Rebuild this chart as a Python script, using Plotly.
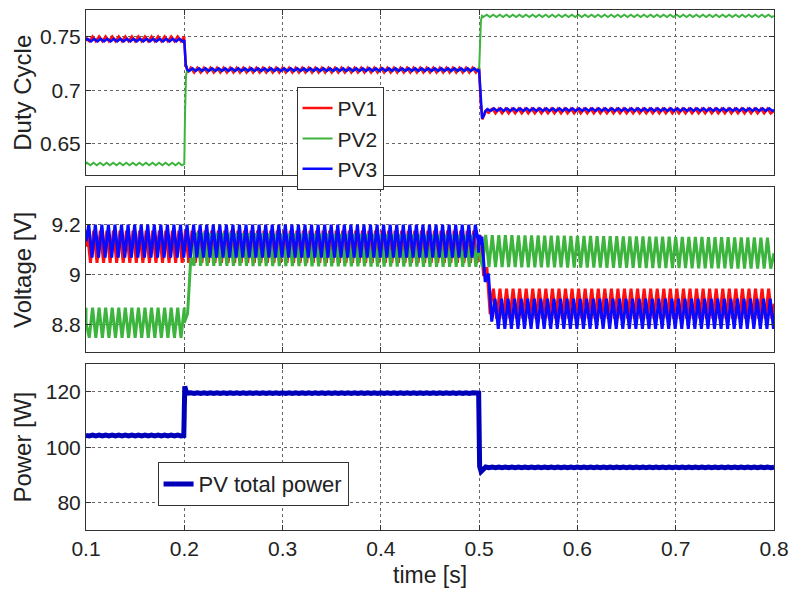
import numpy as np
import plotly.graph_objects as go

# ---------------- data ----------------
T_START, T_END = 0.1, 0.8
RIPPLE_PERIOD = 1 / 150.0  # s, switching ripple

x_ticks = [0.1, 0.2, 0.3, 0.4, 0.5, 0.6, 0.7, 0.8]
x_tick_text = ["0.1", "0.2", "0.3", "0.4", "0.5", "0.6", "0.7", "0.8"]

duty_ticks = [0.65, 0.7, 0.75]
duty_tick_text = ["0.65", "0.7", "0.75"]
volt_ticks = [8.8, 9.0, 9.2]
volt_tick_text = ["8.8", "9", "9.2"]
power_ticks = [80, 100, 120]
power_tick_text = ["80", "100", "120"]

# Duty cycle: mean level knots (time, value) and ripple half-amplitude
duty_pv1_t = [0.1, 0.2, 0.2015, 0.203, 0.5, 0.5015, 0.503, 0.506, 0.51, 0.8]
duty_pv1_v = [0.748, 0.748, 0.723, 0.7188, 0.7188, 0.69, 0.6745, 0.679, 0.6805, 0.6805]
duty_pv1_a = [0.0022, 0.0022, 0.0022, 0.0022, 0.0022, 0.0022, 0.0022, 0.0022, 0.0022, 0.0022]

duty_pv2_t = [0.1, 0.2, 0.2008, 0.2018, 0.203, 0.5, 0.5008, 0.5018, 0.503, 0.8]
duty_pv2_v = [0.631, 0.631, 0.68, 0.714, 0.719, 0.719, 0.745, 0.765, 0.7695, 0.7695]
duty_pv2_a = [0.0012, 0.0012, 0.0, 0.0, 0.0011, 0.0011, 0.0, 0.0, 0.0011, 0.0011]

duty_pv3_t = [0.1, 0.2, 0.2015, 0.203, 0.5, 0.5015, 0.503, 0.506, 0.51, 0.8]
duty_pv3_v = [0.7468, 0.7468, 0.723, 0.7192, 0.7192, 0.69, 0.6735, 0.68, 0.6818, 0.6818]
duty_pv3_a = [0.0012, 0.0012, 0.0012, 0.0012, 0.0012, 0.0012, 0.0012, 0.0012, 0.0012, 0.0012]

# PV voltages
volt_pv1_t = [0.1, 0.5, 0.503, 0.512, 0.8]
volt_pv1_v = [9.112, 9.112, 9.08, 8.884, 8.884]
volt_pv1_a = [0.064, 0.064, 0.05, 0.06, 0.06]

volt_pv2_t = [0.1, 0.2, 0.21, 0.5, 0.8]
volt_pv2_v = [8.808, 8.808, 9.102, 9.095, 9.086]
volt_pv2_a = [0.06, 0.06, 0.066, 0.064, 0.062]

volt_pv3_t = [0.1, 0.499, 0.5, 0.502, 0.514, 0.8]
volt_pv3_v = [9.134, 9.134, 9.16, 9.12, 8.844, 8.844]
volt_pv3_a = [0.066, 0.066, 0.05, 0.05, 0.06, 0.06]

# Total power
power_t = [0.1, 0.1995, 0.2005, 0.202, 0.204, 0.4995, 0.5005, 0.502, 0.505, 0.8]
power_v = [104.2, 104.2, 122.0, 120.0, 119.6, 119.6, 93.0, 91.2, 92.7, 92.7]
power_a = [0.15, 0.15, 0.0, 0.12, 0.12, 0.12, 0.0, 0.12, 0.12, 0.12]


def rippled(knot_t, knot_v, knot_a, phase):
    """Mean level through the read knots with the read ripple amplitude."""
    half = RIPPLE_PERIOD / 2
    grid = np.arange(T_START + phase, T_END, half)
    sign = np.where(np.arange(len(grid)) % 2 == 0, 1.0, -1.0)
    kt = np.asarray(knot_t, dtype=float)
    t = np.concatenate([grid, kt])
    s = np.concatenate([sign, np.zeros(len(kt))])
    order = np.argsort(t, kind="stable")
    t, s = t[order], s[order]
    v = np.interp(t, kt, knot_v) + s * np.interp(t, kt, knot_a)
    return t, v


RED = "#ff1010"
GREEN = "#3db43d"
BLUE = "#0a0aff"
DARKBLUE = "#0000b8"

fig = go.Figure()

d1 = rippled(duty_pv1_t, duty_pv1_v, duty_pv1_a, 0.0)
d2 = rippled(duty_pv2_t, duty_pv2_v, duty_pv2_a, 0.001)
d3 = rippled(duty_pv3_t, duty_pv3_v, duty_pv3_a, 0.0017)
fig.add_trace(go.Scatter(x=d1[0], y=d1[1], mode="lines", name="PV1",
                         line=dict(color=RED, width=2.5), xaxis="x3", yaxis="y3", legend="legend"))
fig.add_trace(go.Scatter(x=d2[0], y=d2[1], mode="lines", name="PV2",
                         line=dict(color=GREEN, width=2), xaxis="x3", yaxis="y3", legend="legend"))
fig.add_trace(go.Scatter(x=d3[0], y=d3[1], mode="lines", name="PV3",
                         line=dict(color=BLUE, width=2.5), xaxis="x3", yaxis="y3", legend="legend"))

v1 = rippled(volt_pv1_t, volt_pv1_v, volt_pv1_a, 0.0012)
v2 = rippled(volt_pv2_t, volt_pv2_v, volt_pv2_a, 0.0)
v3 = rippled(volt_pv3_t, volt_pv3_v, volt_pv3_a, 0.0028)
for (tt, vv), col in ((v1, RED), (v2, GREEN), (v3, BLUE)):
    fig.add_trace(go.Scatter(x=tt, y=vv, mode="lines", showlegend=False,
                             line=dict(color=col, width=3), xaxis="x2", yaxis="y2"))

p = rippled(power_t, power_v, power_a, 0.0)
fig.add_trace(go.Scatter(x=p[0], y=p[1], mode="lines", name="PV total power",
                         line=dict(color=DARKBLUE, width=5), xaxis="x", yaxis="y", legend="legend2"))

FONT = "Liberation Sans, Arial, sans-serif"
axis_common = dict(showline=True, linecolor="#333", linewidth=1, mirror="ticks",
                   ticks="inside", ticklen=5, tickcolor="#333",
                   showgrid=True, gridcolor="#666", griddash="dot", gridwidth=1,
                   zeroline=False, tickfont=dict(size=21, color="#222", family=FONT))

xrange = [0.1, 0.8]
fig.update_layout(
    width=798, height=592,
    margin=dict(l=86, r=19, t=9, b=62),
    paper_bgcolor="white", plot_bgcolor="white",
    font=dict(family=FONT, color="#222"),
    xaxis=dict(domain=[0, 1], range=xrange, tickvals=x_ticks, ticktext=x_tick_text,
               anchor="y", **axis_common),
    xaxis2=dict(domain=[0, 1], range=xrange, tickvals=x_ticks, showticklabels=False,
                anchor="y2", matches="x", **axis_common),
    xaxis3=dict(domain=[0, 1], range=xrange, tickvals=x_ticks, showticklabels=False,
                anchor="y3", matches="x", **axis_common),
    yaxis=dict(domain=[0, 0.3186], range=[70, 130], tickvals=power_ticks,
               ticktext=power_tick_text, anchor="x", **axis_common),
    yaxis2=dict(domain=[0.3417, 0.6603], range=[8.69, 9.352], tickvals=volt_ticks,
                ticktext=volt_tick_text, anchor="x2", **axis_common),
    yaxis3=dict(domain=[0.6833, 1.0], range=[0.621, 0.775], tickvals=duty_ticks,
                ticktext=duty_tick_text, anchor="x3", **axis_common),
    legend=dict(x=0.306, y=0.852, xanchor="left", yanchor="top",
                bgcolor="white", bordercolor="#333", borderwidth=1,
                font=dict(size=21, family=FONT, color="#222"),
                itemwidth=30, tracegroupgap=0),
    legend2=dict(x=0.104, y=0.1306, xanchor="left", yanchor="top",
                 bgcolor="white", bordercolor="#333", borderwidth=1,
                 font=dict(size=22, family=FONT, color="#222"), itemwidth=30),
    showlegend=True,
)

annos = [
    ("Duty Cycle", (0.6833 + 1.0) / 2),
    ("Voltage [V]", (0.3417 + 0.6603) / 2),
    ("Power [W]", 0.3186 / 2),
]
for txt, yc in annos:
    fig.add_annotation(text=txt, x=-0.0924, y=yc, xref="paper", yref="paper",
                       textangle=-90, showarrow=False, xanchor="center", yanchor="middle",
                       font=dict(size=24, family=FONT, color="#222"))
fig.add_annotation(text="time [s]", x=0.5007, y=-0.0864, xref="paper", yref="paper",
                   showarrow=False, xanchor="center", yanchor="middle",
                   font=dict(size=23, family=FONT, color="#222"))

fig.write_html("out.html")
